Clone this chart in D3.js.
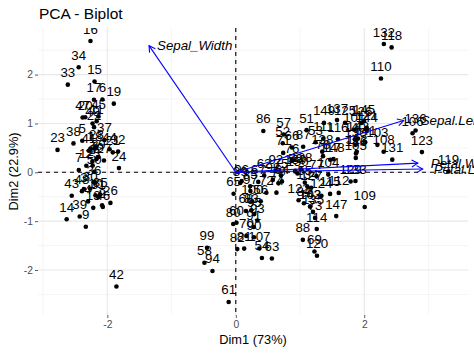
<!DOCTYPE html>
<html>
<head>
<meta charset="utf-8">
<script src="https://cdn.jsdelivr.net/npm/d3@7"></script>
<style>
  html, body { margin: 0; padding: 0; background: #fff; }
  svg { display: block; font-family: "Liberation Sans", Arial, Helvetica, sans-serif; }
</style>
</head>
<body>
<svg id="chart" width="474" height="355"></svg>
<script>
// ---- Data (individual coordinates on Dim1 / Dim2) ----
const indLabels = ["1","2","3","4","5","6","7","8","9","10","11","12","13","14","15","16","17","18","19","20",
"21","22","23","24","25","26","27","28","29","30","31","32","33","34","35","36","37","38","39","40",
"41","42","43","44","45","46","47","48","49","50","51","52","53","54","55","56","57","58","59","60",
"61","62","63","64","65","66","67","68","69","70","71","72","73","74","75","76","77","78","79","80",
"81","82","83","84","85","86","87","88","89","90","91","92","93","94","95","96","97","98","99","100",
"101","102","103","104","105","106","107","108","109","110","111","112","113","114","115","116","117","118","119","120",
"121","122","123","124","125","126","127","128","129","130","131","132","133","134","135","136","137","138","139","140",
"141","142","143","144","145","146","147","148","149","150"];

const dim1 = [-2.265,-2.081,-2.365,-2.300,-2.390,-2.076,-2.444,-2.233,-2.335,-2.185,
-2.166,-2.327,-2.219,-2.633,-2.199,-2.262,-2.208,-2.191,-1.899,-2.344,
-1.915,-2.207,-2.775,-1.819,-2.228,-1.952,-2.052,-2.169,-2.140,-2.266,
-2.141,-1.832,-2.615,-2.446,-2.110,-2.208,-2.045,-2.527,-2.430,-2.170,
-2.287,-1.858,-2.554,-1.965,-2.137,-2.070,-2.385,-2.395,-2.230,-2.204,
1.102,0.731,1.241,0.407,1.075,0.389,0.746,-0.488,0.928,0.011,
-0.111,0.441,0.562,0.719,-0.034,0.875,0.350,0.159,1.225,0.165,
0.738,0.476,1.234,0.633,0.703,0.874,1.256,1.358,0.665,-0.040,
0.131,0.023,0.241,1.061,0.224,0.429,1.049,1.044,0.069,0.283,
0.279,0.624,0.336,-0.363,0.288,0.091,0.228,0.576,-0.448,0.257,
1.845,1.158,2.205,1.440,1.868,2.752,0.367,2.302,2.007,2.260,
1.364,1.603,1.884,1.260,1.468,1.590,1.471,2.426,3.311,1.264,
2.038,0.978,2.898,1.333,1.701,1.954,1.175,1.021,1.788,1.864,
2.436,2.305,1.863,1.114,1.202,2.799,1.576,1.346,0.925,1.852,
2.015,1.902,1.158,2.040,1.998,1.871,1.564,1.521,1.373,0.961];

const dim2 = [0.480,-0.674,-0.342,-0.597,0.647,1.489,0.048,0.223,-1.115,-0.469,
1.044,0.133,-0.728,-0.961,1.860,2.687,1.484,0.489,1.405,1.128,
0.409,0.924,0.459,0.086,0.137,-0.626,0.242,0.527,0.314,-0.338,
-0.505,0.424,1.794,2.151,-0.460,-0.206,0.662,0.592,-0.904,0.269,
0.442,-2.337,-0.479,0.473,1.142,-0.711,1.121,-0.386,0.998,0.009,
0.863,0.595,0.616,-1.754,-0.208,-0.593,0.773,-1.852,0.032,-1.034,
-2.654,-0.063,-1.765,-0.186,-0.439,0.509,-0.196,-0.792,-1.622,-1.302,
0.397,-0.417,-0.933,-0.416,-0.063,0.251,-0.077,0.331,-0.226,-1.059,
-1.562,-1.572,-0.777,-0.634,-0.288,0.846,0.522,-1.383,-0.219,-1.329,
-1.120,0.025,-0.988,-2.019,-0.856,-0.181,-0.385,-0.155,-1.544,-0.599,
0.870,-0.699,0.562,-0.047,0.295,0.800,-1.561,0.420,-0.711,1.921,
0.693,-0.422,0.419,-1.162,-0.442,0.676,0.256,2.557,0.018,-1.707,
0.911,-0.572,0.414,-0.482,1.014,1.008,-0.316,0.064,-0.187,0.562,
0.259,2.626,-0.179,-0.293,-0.811,0.857,1.069,0.423,0.017,0.676,
0.614,0.690,-0.699,0.868,1.049,0.387,-0.897,0.269,1.011,-0.024];

// ---- Variables (correlations with Dim1 / Dim2) ----
const varNames = ["Sepal.Length","Sepal_Width","Petal.Length","Petal.Width"];
const varDim1 = [0.890, -0.460, 0.991, 0.965];
const varDim2 = [0.361, 0.883, 0.023, 0.064];

// ---- Axis ticks / labels ----
const xTicks = [-2, 0, 2];
const xMinor = [-3, -1, 1, 3];
const yTicks = [-2, -1, 0, 1, 2];
const yMinor = [-2.5, -1.5, -0.5, 0.5, 1.5, 2.5];
const title = "PCA - Biplot";
const xTitle = "Dim1 (73%)";
const yTitle = "Dim2 (22.9%)";

// ---- Build ----
const ind = indLabels.map((l, i) => ({label: l, x: dim1[i], y: dim2[i]}));

// arrow scaling as factoextra does
const rx = (d3.max(dim1) - d3.min(dim1)) / (d3.max(varDim1) - d3.min(varDim1));
const ry = (d3.max(dim2) - d3.min(dim2)) / (d3.max(varDim2) - d3.min(varDim2));
const r = Math.min(rx, ry) * 0.7;
const vars = varNames.map((n, i) => ({name: n, x: varDim1[i] * r, y: varDim2[i] * r}));
// label nudges (pixels) for variable names
const varNudge = {"Sepal.Length": 17, "Sepal_Width": 8, "Petal.Length": 11, "Petal.Width": 13};

const allX = dim1.concat(vars.map(v => v.x), [0]);
const allY = dim2.concat(vars.map(v => v.y), [0]);
function expand(ext) { const d = (ext[1] - ext[0]) * 0.05; return [ext[0] - d, ext[1] + d]; }

const panel = {left: 38, right: 468, top: 28, bottom: 315};
const x = d3.scaleLinear().domain(expand(d3.extent(allX))).range([panel.left, panel.right]);
const y = d3.scaleLinear().domain(expand(d3.extent(allY))).range([panel.bottom, panel.top]);

const svg = d3.select("#chart");

// grid
const grid = svg.append("g");
grid.selectAll(".xm").data(xMinor).join("line")
  .attr("x1", d => x(d)).attr("x2", d => x(d)).attr("y1", panel.top).attr("y2", panel.bottom)
  .attr("stroke", "#EFEFEF").attr("stroke-width", 0.6);
grid.selectAll(".ym").data(yMinor).join("line")
  .attr("y1", d => y(d)).attr("y2", d => y(d)).attr("x1", panel.left).attr("x2", panel.right)
  .attr("stroke", "#EFEFEF").attr("stroke-width", 0.6);
grid.selectAll(".xM").data(xTicks).join("line")
  .attr("x1", d => x(d)).attr("x2", d => x(d)).attr("y1", panel.top).attr("y2", panel.bottom)
  .attr("stroke", "#E8E8E8").attr("stroke-width", 1.1);
grid.selectAll(".yM").data(yTicks).join("line")
  .attr("y1", d => y(d)).attr("y2", d => y(d)).attr("x1", panel.left).attr("x2", panel.right)
  .attr("stroke", "#E8E8E8").attr("stroke-width", 1.1);

// axes
const xAxis = d3.axisBottom(x).tickValues(xTicks).tickSize(3).tickPadding(3).tickFormat(d3.format("d"));
const yAxis = d3.axisLeft(y).tickValues(yTicks).tickSize(3).tickPadding(2).tickFormat(d3.format("d"));
const gx = svg.append("g").attr("transform", `translate(0,${panel.bottom})`).call(xAxis);
const gy = svg.append("g").attr("transform", `translate(${panel.left},0)`).call(yAxis);
[gx, gy].forEach(g => {
  g.select(".domain").remove();
  g.selectAll(".tick line").attr("stroke", "#333").attr("stroke-width", 0.8);
  g.selectAll(".tick text").attr("fill", "#4D4D4D").attr("font-size", "10.3px")
   .attr("font-family", "Liberation Sans, Arial, sans-serif");
});
gx.selectAll(".tick text").text(d => d < 0 ? "-" + Math.abs(d) : d);
gy.selectAll(".tick text").text(d => d < 0 ? "-" + Math.abs(d) : d);

// reference dashed lines
svg.append("line").attr("x1", panel.left).attr("x2", panel.right).attr("y1", y(0)).attr("y2", y(0))
  .attr("stroke", "#000").attr("stroke-width", 1.1).attr("stroke-dasharray", "4,4");
svg.append("line").attr("x1", x(0)).attr("x2", x(0)).attr("y1", panel.top).attr("y2", panel.bottom)
  .attr("stroke", "#000").attr("stroke-width", 1.1).attr("stroke-dasharray", "4,4");

// clip (labels clipped at top of panel)
svg.append("clipPath").attr("id", "clipTop").append("rect")
  .attr("x", 0).attr("y", panel.top).attr("width", 474).attr("height", 355 - panel.top);

const indG = svg.append("g").attr("clip-path", "url(#clipTop)");
indG.selectAll("circle").data(ind).join("circle")
  .attr("cx", d => x(d.x)).attr("cy", d => y(d.y)).attr("r", 2.3).attr("fill", "#000");
indG.selectAll("text").data(ind).join("text")
  .attr("x", d => x(d.x)).attr("y", d => y(d.y) - 7.5)
  .attr("text-anchor", "middle").attr("font-size", "13.3px").attr("fill", "#000")
  .text(d => d.label);

// variable arrows
const varG = svg.append("g");
const ah = 7, ang = Math.PI / 6;
vars.forEach(v => {
  const x0 = x(0), y0 = y(0), x1 = x(v.x), y1 = y(v.y);
  const a = Math.atan2(y1 - y0, x1 - x0);
  varG.append("line").attr("x1", x0).attr("y1", y0).attr("x2", x1).attr("y2", y1)
    .attr("stroke", "#0000FF").attr("stroke-width", 1.1);
  const p = d3.path();
  p.moveTo(x1 - ah * Math.cos(a - ang), y1 - ah * Math.sin(a - ang));
  p.lineTo(x1, y1);
  p.lineTo(x1 - ah * Math.cos(a + ang), y1 - ah * Math.sin(a + ang));
  varG.append("path").attr("d", p.toString()).attr("fill", "none")
    .attr("stroke", "#0000FF").attr("stroke-width", 1.1);
});
varG.selectAll("text").data(vars).join("text")
  .attr("x", d => x(d.x) + varNudge[d.name]).attr("y", d => y(d.y) + 4.5)
  .attr("text-anchor", "start").attr("font-size", "13.3px").attr("font-style", "italic")
  .attr("fill", "#000").text(d => d.name);

// titles
svg.append("text").attr("x", 39).attr("y", 19).attr("font-size", "15.5px").attr("fill", "#000").text(title);
svg.append("text").attr("x", (panel.left + panel.right) / 2).attr("y", 344)
  .attr("text-anchor", "middle").attr("font-size", "12.8px").attr("fill", "#000").text(xTitle);
svg.append("text").attr("transform", `translate(17.5,${(panel.top + panel.bottom) / 2}) rotate(-90)`)
  .attr("text-anchor", "middle").attr("font-size", "12.8px").attr("fill", "#000").text(yTitle);
</script>
</body>
</html>
